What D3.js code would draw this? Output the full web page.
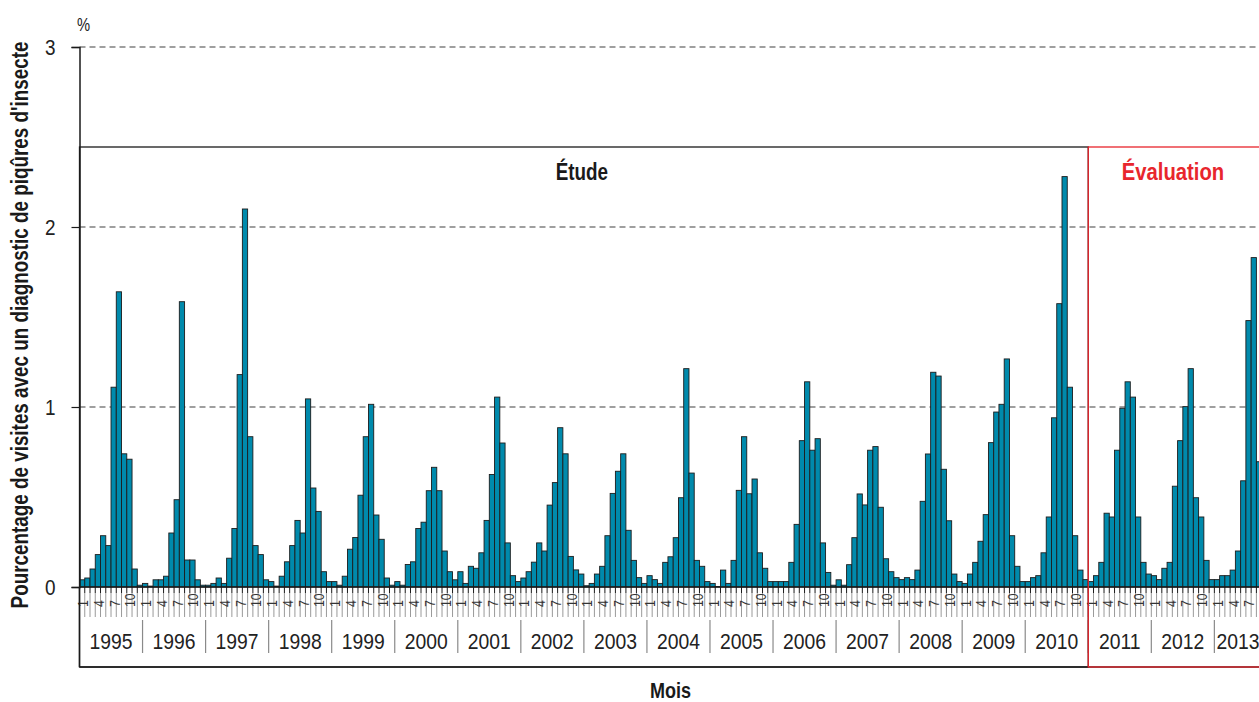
<!DOCTYPE html>
<html>
<head>
<meta charset="utf-8">
<script src="https://cdn.jsdelivr.net/npm/d3@7"></script>
<style>
  html, body { margin: 0; padding: 0; background: #ffffff; overflow: hidden; }
  svg { display: block; }
  text { font-family: "Liberation Sans", Arial, Helvetica, sans-serif; }
</style>
</head>
<body>
<svg id="chart" width="1259" height="702"></svg>
<script>
// Monthly share of visits with an insect-bite diagnosis (%), Jan 1995 - Sep 2013
const years = [1995, 1996, 1997, 1998, 1999, 2000, 2001, 2002, 2003, 2004,
               2005, 2006, 2007, 2008, 2009, 2010, 2011, 2012, 2013];
const monthTickLabels = [1, 4, 7, 10];
const yTickValues = [0, 1, 2, 3];

const pct1995 = [0.04, 0.05, 0.10, 0.18, 0.285, 0.23, 1.11, 1.64, 0.74, 0.71, 0.10, 0.01];
const pct1996 = [0.02, 0.005, 0.04, 0.04, 0.06, 0.30, 0.485, 1.585, 0.15, 0.15, 0.04, 0.01];
const pct1997 = [0.01, 0.02, 0.05, 0.02, 0.16, 0.325, 1.18, 2.10, 0.835, 0.23, 0.18, 0.04];
const pct1998 = [0.03, 0.005, 0.06, 0.14, 0.23, 0.37, 0.30, 1.045, 0.55, 0.42, 0.085, 0.03];
const pct1999 = [0.03, 0.01, 0.06, 0.21, 0.275, 0.51, 0.835, 1.015, 0.40, 0.265, 0.05, 0.01];
const pct2000 = [0.03, 0.01, 0.125, 0.14, 0.325, 0.36, 0.535, 0.665, 0.535, 0.20, 0.085, 0.04];
const pct2001 = [0.085, 0.02, 0.115, 0.104, 0.19, 0.37, 0.625, 1.055, 0.80, 0.245, 0.063, 0.03];
const pct2002 = [0.05, 0.085, 0.138, 0.245, 0.20, 0.455, 0.58, 0.885, 0.74, 0.17, 0.095, 0.072];
const pct2003 = [0.007, 0.02, 0.072, 0.115, 0.285, 0.52, 0.643, 0.74, 0.315, 0.148, 0.052, 0.02];
const pct2004 = [0.063, 0.041, 0.02, 0.137, 0.168, 0.274, 0.496, 1.213, 0.633, 0.148, 0.115, 0.03];
const pct2005 = [0.02, 0.003, 0.094, 0.02, 0.148, 0.537, 0.835, 0.518, 0.60, 0.19, 0.104, 0.03];
const pct2006 = [0.03, 0.03, 0.03, 0.137, 0.348, 0.813, 1.14, 0.76, 0.824, 0.245, 0.081, 0.01];
const pct2007 = [0.04, 0.01, 0.124, 0.274, 0.517, 0.456, 0.76, 0.78, 0.443, 0.157, 0.085, 0.052];
const pct2008 = [0.041, 0.052, 0.041, 0.094, 0.476, 0.739, 1.193, 1.172, 0.654, 0.368, 0.072, 0.03];
const pct2009 = [0.02, 0.072, 0.137, 0.254, 0.402, 0.802, 0.972, 1.015, 1.267, 0.285, 0.115, 0.03];
const pct2010 = [0.03, 0.052, 0.063, 0.19, 0.389, 0.94, 1.574, 2.28, 1.11, 0.285, 0.094, 0.041];
const pct2011 = [0.03, 0.063, 0.137, 0.41, 0.389, 0.76, 0.993, 1.14, 1.055, 0.389, 0.137, 0.072];
const pct2012 = [0.063, 0.041, 0.104, 0.137, 0.56, 0.813, 1.002, 1.213, 0.496, 0.389, 0.148, 0.041];
const pct2013 = [0.041, 0.063, 0.063, 0.094, 0.20, 0.59, 1.48, 1.83, 0.696];

const seriesByYear = [pct1995, pct1996, pct1997, pct1998, pct1999, pct2000, pct2001,
                      pct2002, pct2003, pct2004, pct2005, pct2006, pct2007, pct2008,
                      pct2009, pct2010, pct2011, pct2012, pct2013];

const periods = [
  { label: "Étude", first: 1995, last: 2010, color: "#1a1a1a", squeeze: 0.82 },
  { label: "Évaluation", first: 2011, last: 2013, color: "#e8262d", squeeze: 0.88 }
];

// ---- layout ----
const W = 1259, H = 702;
const left = 79.5, monthW = 5.254;
const baseY = 587, topY = 47;
const boxTop = 147, axisBottom = 667;
const NARROW = 0.82;   // horizontal squeeze giving a condensed face

const months = years.flatMap((yr, i) =>
  seriesByYear[i].map((v, m) => ({ year: yr, month: m + 1, key: yr + "-" + (m + 1), value: v })));

const svg = d3.select("#chart");

// condensed text: positioned with a transform, squeezed along its own x direction
function label(parent, px, py, str, o = {}) {
  const t = parent.append("text")
    .attr("transform", `translate(${px},${py})` + (o.rotate ? ` rotate(${o.rotate})` : "") + ` scale(${o.squeeze || NARROW},1)`)
    .attr("text-anchor", o.anchor || "start")
    .attr("font-size", o.size || 16)
    .attr("fill", o.fill || "#222")
    .text(str);
  if (o.bold) t.attr("font-weight", "bold");
  if (o.baseline) t.attr("dominant-baseline", o.baseline);
  return t;
}

const x = d3.scaleBand()
  .domain(months.map(d => d.key))
  .range([left, left + monthW * months.length])
  .padding(0);
const bw = x.bandwidth();
const y = d3.scaleLinear().domain([0, 3]).range([baseY, topY]);

// dashed gridlines
svg.append("g").selectAll("line")
  .data(yTickValues.filter(v => v > 0))
  .join("line")
  .attr("x1", left).attr("x2", W)
  .attr("y1", d => y(d)).attr("y2", d => y(d))
  .attr("stroke", "#808080").attr("stroke-width", 1.4)
  .attr("stroke-dasharray", "6,4");

// bars
svg.append("g").selectAll("rect")
  .data(months)
  .join("rect")
  .attr("x", d => x(d.key))
  .attr("width", bw)
  .attr("y", d => y(d.value))
  .attr("height", d => y(0) - y(d.value))
  .attr("fill", "#008aac")
  .attr("stroke", "#1c1c1c")
  .attr("stroke-width", 0.9);

// category axis: month ticks, month labels, year blocks
const cat = svg.append("g");
const boundaries = months.map(d => x(d.key)).concat([x(months[months.length - 1].key) + bw]);

cat.selectAll("line.mgray").data(boundaries).join("line")
  .attr("class", "mgray")
  .attr("x1", d => d).attr("x2", d => d)
  .attr("y1", baseY + 6).attr("y2", baseY + 30)
  .attr("stroke", "#9a9a9a").attr("stroke-width", 1);

cat.selectAll("line.mtick").data(boundaries).join("line")
  .attr("class", "mtick")
  .attr("x1", d => d).attr("x2", d => d)
  .attr("y1", baseY).attr("y2", baseY + 6)
  .attr("stroke", "#1a1a1a").attr("stroke-width", 1);

months.filter(d => monthTickLabels.includes(d.month)).forEach(d => {
  label(cat, x(d.key) + bw / 2 + 1, baseY + 20, d.month,
        { rotate: -90, size: 15, fill: "#333", baseline: "central" });
});

const yearSpans = years.map(yr => {
  const ms = months.filter(d => d.year === yr);
  return { year: yr, x0: x(ms[0].key), x1: x(ms[ms.length - 1].key) + bw };
});

cat.selectAll("line.ydiv").data(yearSpans.slice(1)).join("line")
  .attr("class", "ydiv")
  .attr("x1", d => d.x0).attr("x2", d => d.x0)
  .attr("y1", baseY + 33).attr("y2", baseY + 66)
  .attr("stroke", "#8a8a8a").attr("stroke-width", 1.2);

yearSpans.forEach(d => {
  label(cat, (d.x0 + d.x1) / 2, baseY + 62, d.year,
        { anchor: "middle", size: 22.5, squeeze: 0.86, fill: "#222" });
});

// frame under the category labels
cat.append("line").attr("x1", left).attr("x2", W).attr("y1", axisBottom).attr("y2", axisBottom)
  .attr("stroke", "#1a1a1a").attr("stroke-width", 1.5);
cat.append("line").attr("x1", left).attr("x2", left).attr("y1", baseY).attr("y2", axisBottom)
  .attr("stroke", "#1a1a1a").attr("stroke-width", 1.5);

// x baseline
svg.append("line").attr("x1", left).attr("x2", W).attr("y1", baseY).attr("y2", baseY)
  .attr("stroke", "#1a1a1a").attr("stroke-width", 1.5);

// y axis with outward ticks; its numbers are set separately in the condensed face
const yAxis = svg.append("g")
  .attr("transform", `translate(${left},0)`)
  .call(d3.axisLeft(y).tickValues(yTickValues).tickSize(8).tickFormat(() => ""));
yAxis.select(".domain").attr("stroke", "#1a1a1a").attr("stroke-width", 1.5);
yAxis.selectAll(".tick line").attr("stroke", "#1a1a1a").attr("stroke-width", 1.2);
yTickValues.forEach(v => {
  label(svg, left - 24, y(v) + 8, v, { anchor: "end", size: 22, squeeze: 0.86, fill: "#222" });
});

// period boxes
periods.forEach(p => {
  const s = yearSpans.find(d => d.year === p.first);
  const e = yearSpans.find(d => d.year === p.last);
  const g = svg.append("g");
  g.append("rect")
    .attr("x", s.x0).attr("y", boxTop)
    .attr("width", e.x1 - s.x0).attr("height", axisBottom - boxTop)
    .attr("fill", "none").attr("stroke", p.color).attr("stroke-width", 1.3);
  label(g, (s.x0 + e.x1) / 2 - 2, boxTop + 33, p.label,
        { anchor: "middle", size: 23, bold: true, fill: p.color, squeeze: p.squeeze });
});

// unit and axis titles
label(svg, 77, 31, "%", { size: 18, fill: "#222" });

label(svg, 28, 325, "Pourcentage de visites avec un diagnostic de piqûres d'insecte",
      { rotate: -90, anchor: "middle", size: 23, bold: true, fill: "#1a1a1a" });

label(svg, (left + x(months[months.length - 1].key) + bw) / 2, 698, "Mois",
      { anchor: "middle", size: 22, bold: true, fill: "#1a1a1a" });
</script>
</body>
</html>
